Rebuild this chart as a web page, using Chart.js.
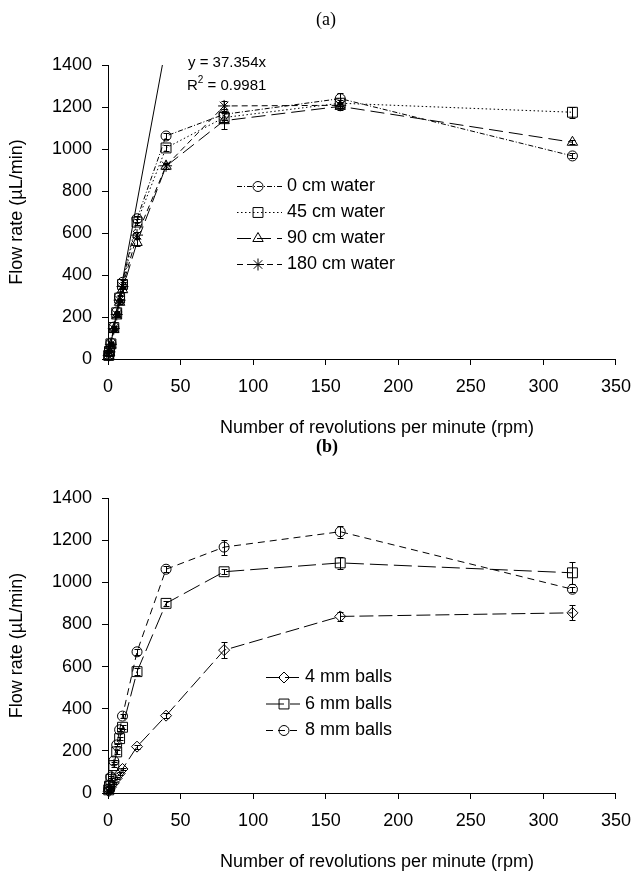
<!DOCTYPE html>
<html>
<head>
<meta charset="utf-8">
<script src="https://cdn.jsdelivr.net/npm/chart.js@4.4.1/dist/chart.umd.min.js"></script>
<style>
  body { margin: 0; background: #fff; }
  .box { position: absolute; left: 0; width: 642px; }
</style>
</head>
<body>
<div class="box" style="top:0;height:438px"><canvas id="chartA"></canvas></div>
<div class="box" style="top:438px;height:433px"><canvas id="chartB"></canvas></div>
<script>
// ---- data ----
const rpm = [0.5, 1, 2, 4, 6, 8, 10, 20, 40, 80, 160, 320];
const xTicks = [0, 50, 100, 150, 200, 250, 300, 350];
const yTicks = [0, 200, 400, 600, 800, 1000, 1200, 1400];

// panel (a): water head
const waterLabels = ['0 cm water', '45 cm water', '90 cm water', '180 cm water'];
const water0   = [18, 38, 76, 152, 224, 296, 365, 668, 1062, 1165, 1240, 967];
const water45  = [17, 36, 72, 150, 220, 290, 355, 652, 1005, 1150, 1218, 1175];
const water90  = [15, 32, 66, 140, 205, 270, 330, 555, 918, 1135, 1203, 1032];
const water180 = [16, 34, 70, 145, 212, 280, 345, 590, 920, 1205, 1208, null];
const water0Err   = [2, 3, 4, 6, 6, 8, 10, 15, 15, 25, 25, 12];
const water45Err  = [2, 3, 4, 6, 6, 8, 10, 15, 15, 20, 15, 25];
const water90Err  = [2, 3, 4, 6, 6, 8, 10, 15, 12, 40, 15, 10];
const water180Err = [2, 3, 4, 6, 6, 8, 10, 15, 15, 25, 15, null];

// linear fit y = 37.354x, R^2 = 0.9981
const trendX = [0, 37.48];
const trendY = [0, 1400];
const trendText = 'y = 37.354x';
const r2Text = '0.9981';

// panel (b): ball size
const ballLabels = ['4 mm balls', '6 mm balls', '8 mm balls'];
const ball4 = [8, 15, 28, 48, 70, 92, 114, 220, 367, 678, 838, 855];
const ball6 = [15, 32, 65, 130, 195, 258, 312, 576, 900, 1050, 1092, 1045];
const ball8 = [18, 38, 76, 152, 228, 300, 365, 670, 1062, 1167, 1240, 967];
const ball4Err = [1, 2, 3, 4, 5, 6, 6, 10, 12, 38, 20, 35];
const ball6Err = [2, 3, 4, 6, 8, 8, 10, 15, 12, 12, 28, 53];
const ball8Err = [2, 3, 4, 6, 6, 8, 10, 15, 15, 36, 28, 12];

const xTitle = 'Number of revolutions per minute (rpm)';
const yTitle = 'Flow rate (µL/min)';

const SANS = '"Liberation Sans", Arial, sans-serif';
const SERIF = '"Liberation Serif", "Times New Roman", serif';

function pts(xs, ys) {
  return xs.map((x, i) => ({ x: x, y: ys[i] }));
}

function series(label, ys, style, radius, dash) {
  return {
    label: label,
    data: pts(rpm, ys),
    borderColor: '#000',
    borderWidth: 1,
    borderDash: dash,
    backgroundColor: 'rgba(0,0,0,0)',
    pointStyle: style,
    pointRadius: radius,
    pointBorderColor: '#000',
    pointBackgroundColor: 'rgba(0,0,0,0)',
    pointBorderWidth: 1,
    tension: 0,
    spanGaps: false,
    clip: false
  };
}

function xScale(h) {
  return {
    type: 'linear', min: 0, max: 350,
    afterBuildTicks: s => { s.ticks = xTicks.map(v => ({ value: v })); },
    afterFit: s => { s.height = h; },
    border: { display: true, color: '#000', width: 1 },
    grid: { display: true, drawOnChartArea: false, drawTicks: true, tickLength: 6, color: '#000' },
    ticks: { color: '#000', padding: 11, font: { family: SANS, size: 18 }, maxRotation: 0,
             callback: v => String(v) },
    title: { display: false }
  };
}

function yScale() {
  return {
    type: 'linear', min: 0, max: 1400,
    afterBuildTicks: s => { s.ticks = yTicks.map(v => ({ value: v })); },
    afterFit: s => { s.width = 108; },
    border: { display: true, color: '#000', width: 1 },
    grid: { display: true, drawOnChartArea: false, drawTicks: true, tickLength: 6, color: '#000' },
    ticks: { color: '#000', padding: 10, font: { family: SANS, size: 18 },
             callback: v => String(v) },
    title: { display: true, text: yTitle, color: '#000',
             font: { family: SANS, size: 18 }, padding: { top: 6, bottom: 0 } }
  };
}

function errorBars(errs) {
  return {
    id: 'errorBars',
    afterDatasetsDraw(chart) {
      const ctx = chart.ctx, xs = chart.scales.x, ys = chart.scales.y;
      ctx.save();
      ctx.strokeStyle = '#000';
      ctx.lineWidth = 1;
      ctx.setLineDash([]);
      errs.forEach((e, i) => {
        if (!e) return;
        chart.data.datasets[i].data.forEach((p, j) => {
          if (p.y == null || e[j] == null) return;
          const px = Math.round(xs.getPixelForValue(p.x)) + 0.5;
          const y1 = Math.round(ys.getPixelForValue(p.y - e[j])) + 0.5;
          const y2 = Math.round(ys.getPixelForValue(p.y + e[j])) + 0.5;
          ctx.beginPath();
          ctx.moveTo(px, y1); ctx.lineTo(px, y2);
          ctx.moveTo(px - 3, y1); ctx.lineTo(px + 3, y1);
          ctx.moveTo(px - 3, y2); ctx.lineTo(px + 3, y2);
          ctx.stroke();
        });
      });
      ctx.restore();
    }
  };
}

function marker(ctx, style, r, x, y) {
  const opts = { pointStyle: style, radius: r, rotation: 0, borderWidth: 1 };
  ctx.fillStyle = 'rgba(0,0,0,0)';
  ctx.strokeStyle = '#000';
  ctx.lineWidth = 1;
  ctx.setLineDash([]);
  Chart.helpers.drawPoint(ctx, opts, x, y);
}

// in-plot legend, panel title, x-axis title
function overlay(cfg) {
  return {
    id: 'overlay',
    afterDraw(chart) {
      const ctx = chart.ctx;
      ctx.save();
      ctx.fillStyle = '#000';
      ctx.textBaseline = 'middle';
      ctx.textAlign = 'center';
      ctx.font = cfg.titleFont;
      ctx.fillText(cfg.title, cfg.titleX, cfg.titleY);
      ctx.font = '18px ' + SANS;
      ctx.fillText(xTitle, 377, cfg.xTitleY);
      ctx.textAlign = 'left';
      cfg.rows.forEach((i, k) => {
        const ds = chart.data.datasets[i];
        const y = cfg.legendY + k * cfg.legendGap + 0.5;
        ctx.strokeStyle = '#000';
        ctx.lineWidth = 1;
        ctx.setLineDash(ds.borderDash || []);
        ctx.beginPath();
        ctx.moveTo(cfg.lineX1, y);
        ctx.lineTo(cfg.lineX2, y);
        ctx.stroke();
        marker(ctx, ds.pointStyle, ds.pointRadius, cfg.markX, y);
        ctx.fillStyle = '#000';
        ctx.font = '18px ' + SANS;
        ctx.fillText(ds.label, cfg.textX, y);
      });
      if (cfg.fit) {
        ctx.font = '15px ' + SANS;
        ctx.fillText(trendText, 188, 63);
        ctx.fillText('R', 187, 86);
        const w = ctx.measureText('R').width;
        ctx.font = '10px ' + SANS;
        ctx.fillText('2', 187 + w, 80);
        const w2 = ctx.measureText('2').width;
        ctx.font = '15px ' + SANS;
        ctx.fillText(' = ' + r2Text, 187 + w + w2, 86);
      }
      ctx.restore();
    }
  };
}

const common = {
  responsive: true,
  maintainAspectRatio: false,
  animation: false,
  events: [],
  plugins: { legend: { display: false }, tooltip: { enabled: false }, title: { display: false } }
};

// ---- chart (a) ----
new Chart(document.getElementById('chartA'), {
  type: 'line',
  data: {
    datasets: [
      series(waterLabels[0], water0, 'circle', 5, [5, 2, 1, 2]),
      series(waterLabels[1], water45, 'rect', 7, [1.5, 2.5]),
      series(waterLabels[2], water90, 'triangle', 6, [14, 6]),
      series(waterLabels[3], water180, 'star', 6, [6, 4]),
      {
        label: 'fit', data: pts(trendX, trendY), borderColor: '#000', borderWidth: 1,
        pointRadius: 0, tension: 0, clip: false
      }
    ]
  },
  options: Object.assign({}, common, {
    layout: { padding: { top: 65, right: 16, left: 0, bottom: 0 } },
    scales: { x: xScale(79), y: yScale() }
  }),
  plugins: [
    errorBars([water0Err, water45Err, water90Err, water180Err, null]),
    overlay({
      title: '(a)', titleFont: '18px ' + SERIF, titleX: 326, titleY: 20, xTitleY: 428,
      rows: [0, 1, 2, 3], legendY: 186, legendGap: 26,
      lineX1: 237, lineX2: 282, markX: 258, textX: 287, fit: true
    })
  ]
});

// ---- chart (b) ----
new Chart(document.getElementById('chartB'), {
  type: 'line',
  data: {
    datasets: [
      series(ballLabels[0], ball4, 'rectRot', 5.5, [14, 5]),
      series(ballLabels[1], ball6, 'rect', 7, [18, 6]),
      series(ballLabels[2], ball8, 'circle', 5, [7, 5])
    ]
  },
  options: Object.assign({}, common, {
    layout: { padding: { top: 60, right: 16, left: 0, bottom: 0 } },
    scales: { x: xScale(78), y: yScale() }
  }),
  plugins: [
    errorBars([ball4Err, ball6Err, ball8Err]),
    overlay({
      title: '(b)', titleFont: 'bold 18px ' + SERIF, titleX: 327, titleY: 9, xTitleY: 424,
      rows: [0, 1, 2], legendY: 677 - 438, legendGap: 26.5,
      lineX1: 266, lineX2: 300, markX: 284, textX: 305, fit: false
    })
  ]
});
</script>
</body>
</html>
